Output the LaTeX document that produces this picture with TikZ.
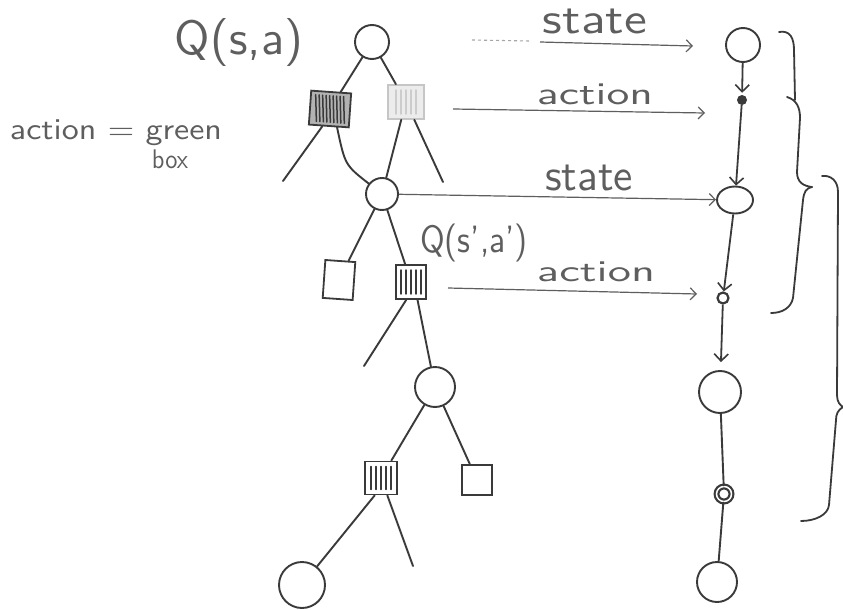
\documentclass[tikz,border=0pt]{standalone}
\usepackage{fontspec}
\usetikzlibrary{arrows.meta,shapes.geometric}
\definecolor{ink}{HTML}{3A3A3A}
\definecolor{pencil}{HTML}{5E5E5E}
\newcommand{\handtext}[3]{\resizebox*{#1}{#2}{\sffamily #3}}
\begin{document}
\begin{tikzpicture}[x=1pt,y=1pt,
  every node/.style={inner sep=0pt},
  treeline/.style={draw=ink, line width=1.9pt, line cap=round},
  statenode/.style={circle, draw=ink, line width=1.9pt, fill=white},
  actbox/.style={rectangle, draw=ink, line width=1.8pt, fill=white},
  scribble/.style={path picture={\foreach \dx in {-10,-5,0,5,10}{\draw[#1, line width=1.4pt, line cap=round] ([xshift=\dx pt,yshift=-5pt]path picture bounding box.north) -- ([xshift=\dx pt,yshift=5pt]path picture bounding box.south);}}},
  densescribble/.style={path picture={\foreach \dx in {-14,-10.5,-7,-3.5,0,3.5,7,10.5,14}{\draw[#1, line width=1.5pt, line cap=round] ([xshift=\dx pt,yshift=-5pt]path picture bounding box.north) -- ([xshift=\dx pt,yshift=5pt]path picture bounding box.south);}}},
  hatched/.style={actbox, scribble=ink},
  darkbox/.style={actbox, fill=gray!60, densescribble=ink},
  lightbox/.style={rectangle, draw=gray!45, line width=1.6pt, fill=gray!15, scribble=gray!40},
  dot/.style={circle, draw=ink, line width=2.2pt, fill=white},
  chainarrow/.style={draw=ink, line width=1.8pt, -{Straight Barb[length=7pt,width=14pt,line width=1.6pt]}},
  harrow/.style={draw=pencil, line width=1.2pt, -{Straight Barb[length=6pt,width=12pt,line width=1.2pt]}},
  bracepath/.style={draw=ink, line width=1.8pt, line cap=round},
  label/.style={text=pencil}
]
\useasboundingbox[fill=white] (0,0) rectangle (843,-610);

% ---------- tree ----------
\node[statenode, minimum size=34pt] (root) at (372,-42) {};
\node[darkbox, minimum width=40pt, minimum height=34pt, rotate=-4] (b1) at (330,-109) {};
\node[lightbox, minimum width=36pt, minimum height=34pt] (b2) at (406,-102) {};
\coordinate (c1l) at (283,-181);
\coordinate (c2r) at (443,-182);
\node[statenode, minimum size=32pt] (m) at (382,-194) {};
\node[actbox, minimum width=30pt, minimum height=38pt, rotate=-4] (b3) at (339,-280) {};
\node[hatched, minimum width=30pt, minimum height=34pt] (b4) at (411,-282) {};
\coordinate (d1) at (364,-366);
\node[statenode, minimum size=40pt] (D) at (435,-387) {};
\node[hatched, minimum width=32pt, minimum height=33pt] (b5) at (381,-478) {};
\node[actbox, minimum width=30pt, minimum height=30pt] (b6) at (477,-480) {};
\coordinate (d2) at (413,-566);
\node[statenode, minimum size=46pt] (bot) at (302,-585) {};

\draw[treeline] (root) -- (b1);
\draw[treeline] (root) -- (b2);
\draw[treeline] (b1.250) -- (c1l);
\draw[treeline] (b1.295) .. controls (345,-165) .. (m);
\draw[treeline] (b2.255) -- (m);
\draw[treeline] (b2.295) -- (c2r);
\draw[treeline] (m) -- (b3);
\draw[treeline] (m) -- (b4);
\draw[treeline] (b4.255) -- (d1);
\draw[treeline] (b4.290) -- (D);
\draw[treeline] (D) -- (b5);
\draw[treeline] (D) -- (b6);
\draw[treeline] (b5.250) -- (bot);
\draw[treeline] (b5.290) -- (d2);

% ---------- chain ----------
\node[statenode, minimum size=34pt] (s1) at (743,-45) {};
\node[circle, fill=ink, minimum size=10pt] (a1) at (742,-100) {};
\node[ellipse, draw=ink, line width=1.9pt, fill=white, minimum width=36pt, minimum height=27pt] (s2) at (735,-200) {};
\node[dot, minimum size=11pt] (a2) at (723,-298) {};
\node[statenode, minimum size=42pt] (s3) at (720,-392) {};
\node[dot, minimum size=15pt, double=white, double distance=1.5pt] (a3) at (724,-494) {};
\node[statenode, minimum size=40pt] (s4) at (717,-582) {};

\draw[chainarrow, shorten >=2pt] (s1) -- (a1);
\draw[chainarrow] (a1) -- (s2);
\draw[chainarrow] (s2) -- (a2);
\draw[chainarrow, shorten >=8pt] (a2) -- (s3);
\draw[treeline] (s3) -- (a3);
\draw[treeline] (a3) -- (s4);

% ---------- horizontal arrows ----------
\coordinate (h1a) at (472,-40);
\coordinate (h1b) at (530,-41);
\coordinate (h1c) at (540,-42);
\coordinate (h1d) at (693,-46);
\coordinate (h2a) at (453,-109);
\coordinate (h2b) at (705,-113);
\coordinate (h4a) at (448,-288);
\coordinate (h4b) at (697,-294);
\draw[draw=pencil!55, line width=1.1pt, dashed] (h1a) -- (h1b);
\draw[harrow] (h1c) -- (h1d);
\draw[harrow] (h2a) -- (h2b);
\draw[harrow] (m) -- (s2);
\draw[harrow] (h4a) -- (h4b);

% ---------- braces ----------
\draw[bracepath] (779,-32) .. controls (790,-30) and (794,-38) .. (794,-50) -- (795,-100);
\draw[bracepath] (787,-97) .. controls (797,-100) and (800,-108) .. (800,-118) -- (797,-172) .. controls (797,-182) and (803,-186) .. (812,-187);
\draw[bracepath] (812,-187) .. controls (806,-188) and (804,-192) .. (803,-200) -- (793,-298) .. controls (791,-308) and (782,-313) .. (771,-313);
\draw[bracepath] (822,-176) .. controls (830,-175) and (838,-180) .. (838,-192) -- (837,-395) .. controls (837,-402) and (840,-405) .. (843,-407);
\draw[bracepath] (843,-407) .. controls (838,-410) and (836,-414) .. (836,-420) -- (829,-505) .. controls (828,-515) and (815,-521) .. (801,-521);

% ---------- labels ----------
\node[label] (tq) at (239,-42) {\handtext{128pt}{48pt}{Q(s,a)}};
\node[label] (tqp) at (474,-243) {\handtext{108pt}{38pt}{Q(s',a')}};
\node[label] (ts1) at (595,-21) {\handtext{104pt}{25pt}{state}};
\node[label] (ta1) at (595,-94) {\handtext{116pt}{21pt}{action}};
\node[label] (ts2) at (589,-178) {\handtext{88pt}{26pt}{state}};
\node[label] (ta2) at (596,-272) {\handtext{118pt}{20pt}{action}};
\node[label] (tg) at (116,-133) {\handtext{212pt}{26pt}{action = green}};
\node[label] (tb) at (170,-159) {\handtext{36pt}{19pt}{box}};
\end{tikzpicture}
\end{document}
